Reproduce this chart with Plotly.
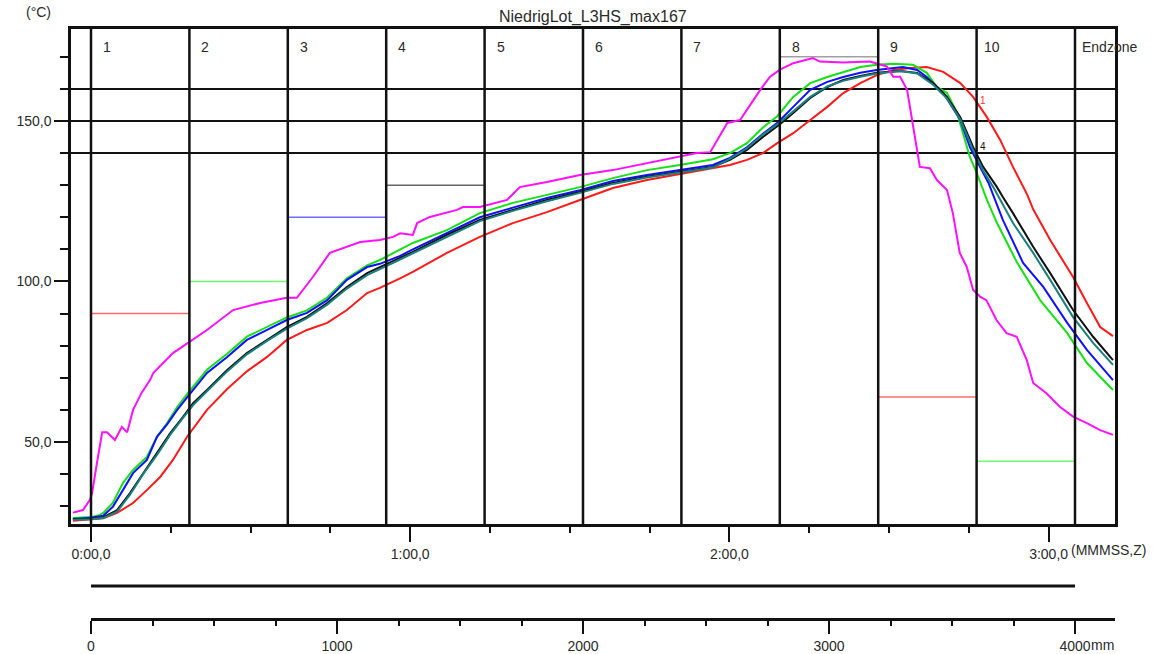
import plotly.graph_objects as go

# ---------------- data ----------------
zone_labels = ["1", "2", "3", "4", "5", "6", "7", "8", "9", "10", "Endzone"]
zone_starts_mm = [0, 400, 800, 1200, 1600, 2000, 2400, 2800, 3200, 3600, 4000]

setpoint_start_mm = [0, 400, 800, 1200, 2800, 3200, 3600]
setpoint_end_mm = [400, 800, 1200, 1600, 3200, 3600, 4000]
setpoint_temp = [90, 100, 120, 130, 170, 64, 44]

limit_temps = [140, 150, 160]

time_ticks = [0, 60, 120, 180]
time_tick_text = ["0:00,0", "1:00,0", "2:00,0", "3:00,0"]
temp_ticks = [50, 100, 150]
temp_tick_text = ["50,0", "100,0", "150,0"]
mm_ticks = [0, 1000, 2000, 3000, 4000]
mm_tick_text = ["0", "1000", "2000", "3000", "4000"]

t_red = [-3.4, 0.0, 2.3, 4.9, 7.9, 10.5, 13.0, 15.4, 18.1, 21.8, 25.6, 29.3, 33.1, 36.8, 40.6, 44.4,
         48.1, 51.9, 54.3, 58.1, 60.5, 66.9, 73.1, 79.3, 85.7, 91.9, 98.1, 104.5, 110.7, 116.9, 120.1,
         123.3, 126.3, 129.0, 132.0, 135.2, 138.4, 141.4, 144.6, 147.7, 150.8, 154.0, 157.1, 160.2,
         163.4, 165.8, 168.4, 170.9, 173.3, 176.0, 177.1, 180.3, 183.5, 184.6, 187.2, 189.7, 192.1]
T_red = [25.5, 25.8, 26.2, 27.9, 31.0, 35.0, 39.1, 44.4, 51.7, 60.0, 66.5, 72.0, 76.5, 81.8, 84.9, 87.1,
         91.1, 96.4, 98.0, 101.0, 103.0, 108.9, 113.9, 118.2, 121.6, 125.4, 129.1, 131.6, 133.5, 135.4, 136.3,
         137.9, 140.0, 143.1, 146.2, 150.3, 154.4, 158.7, 161.8, 164.3, 165.9, 166.5, 166.8, 165.3,
         161.8, 157.5, 151.2, 144.1, 135.7, 127.0, 122.5, 112.9, 104.5, 101.4, 93.3, 85.8, 83.0]

t_green = [-3.4, 0.0, 1.7, 2.3, 4.1, 6.0, 7.9, 10.5, 12.4, 14.3, 16.2, 18.1, 21.8, 25.6, 29.3, 33.1,
           36.8, 40.6, 44.4, 48.1, 51.9, 54.3, 60.5, 66.9, 73.1, 79.3, 85.7, 91.9, 98.1, 104.5, 110.7,
           116.9, 120.1, 123.3, 126.3, 129.0, 132.0, 135.2, 138.4, 141.4, 144.6, 147.7, 150.8, 154.5,
           157.1, 159.0, 160.9, 162.8, 163.9, 165.2, 166.5, 168.4, 170.3, 174.1, 178.4, 183.5, 187.2, 192.1]
T_green = [26.3, 26.6, 27.3, 27.9, 31.0, 37.2, 41.3, 45.3, 51.6, 55.9, 60.9, 65.0, 72.5, 77.5, 82.8, 85.9,
           88.8, 91.0, 95.0, 101.0, 105.0, 106.7, 112.0, 116.0, 121.3, 124.5, 127.0, 129.4, 132.2, 134.7, 136.3,
           138.1, 140.0, 143.1, 148.0, 151.5, 157.5, 161.8, 163.7, 165.3, 166.8, 167.5, 167.8, 167.5,
           165.0, 160.6, 158.7, 152.5, 146.3, 138.8, 133.8, 125.4, 118.2, 105.8, 94.2, 83.9, 74.6, 66.2]

t_blue = [-3.4, 0.0, 2.3, 4.1, 6.0, 7.9, 10.5, 12.4, 14.3, 16.2, 18.1, 21.8, 25.6, 29.3, 33.1, 36.8,
          40.6, 44.4, 48.1, 51.9, 54.3, 58.1, 60.5, 66.9, 73.1, 79.3, 85.7, 91.9, 98.1, 104.5, 110.7,
          116.9, 120.1, 123.3, 126.3, 129.0, 132.0, 135.2, 138.4, 141.4, 144.6, 147.7, 152.6, 155.3,
          157.1, 160.2, 163.4, 165.2, 167.1, 168.7, 171.4, 175.2, 179.0, 183.5, 187.2, 192.1]
T_blue = [26.0, 26.4, 27.0, 29.8, 35.0, 40.3, 44.4, 51.6, 55.5, 60.0, 64.0, 71.5, 76.5, 81.8, 84.9, 88.0,
          90.2, 94.2, 100.5, 104.5, 105.5, 108.0, 110.0, 115.2, 120.0, 123.0, 126.0, 128.4, 131.3, 133.2, 134.8,
          136.3, 138.5, 141.8, 146.0, 149.4, 154.4, 159.7, 162.2, 163.7, 165.0, 165.9, 166.8, 165.9,
          163.7, 158.7, 150.3, 141.9, 135.7, 130.7, 119.2, 105.8, 98.3, 87.1, 78.7, 69.3]

t_black = [-3.4, 0.0, 2.3, 4.9, 7.3, 9.8, 12.4, 14.9, 17.3, 19.2, 21.8, 25.6, 29.3, 33.1, 36.8, 40.6,
           44.4, 48.1, 51.9, 54.3, 57.0, 60.5, 66.9, 73.1, 79.3, 85.7, 91.9, 98.1, 104.5, 110.7, 116.9,
           120.1, 123.3, 126.3, 129.5, 132.0, 135.2, 138.4, 141.4, 144.6, 147.7, 152.1, 155.3, 158.3,
           160.9, 163.4, 165.8, 167.7, 170.3, 171.4, 173.3, 177.1, 180.3, 184.6, 188.4, 192.1]
T_black = [26.0, 26.0, 26.5, 28.8, 34.0, 40.3, 46.6, 52.8, 57.8, 62.1, 66.2, 72.4, 77.7, 81.8, 85.8, 89.0,
           93.3, 98.3, 102.6, 104.5, 106.5, 109.2, 114.5, 119.2, 122.3, 125.4, 127.9, 130.7, 132.6, 134.2, 135.7,
           137.9, 141.0, 145.0, 149.0, 152.5, 157.2, 160.6, 162.8, 164.0, 165.0, 165.6, 165.0, 161.8,
           157.5, 151.2, 141.9, 135.7, 129.4, 126.3, 121.3, 110.8, 102.6, 91.1, 82.7, 75.5]

t_teal = [-3.4, 0.0, 2.3, 4.9, 7.3, 9.8, 12.4, 14.9, 17.3, 19.2, 21.8, 25.6, 29.3, 33.1, 36.8, 40.6,
          44.4, 48.1, 51.9, 54.3, 57.0, 60.5, 66.9, 73.1, 79.3, 85.7, 91.9, 98.1, 104.5, 110.7, 116.9,
          120.1, 123.3, 126.3, 129.5, 132.0, 135.2, 138.4, 141.4, 144.6, 147.7, 152.1, 155.3, 158.3,
          160.9, 163.4, 165.8, 167.7, 169.6, 173.3, 177.1, 180.3, 184.6, 188.4, 192.1]
T_teal = [25.8, 25.9, 26.3, 28.3, 33.5, 40.0, 46.0, 52.3, 57.5, 61.5, 65.8, 72.0, 77.3, 81.5, 85.3, 88.6,
          92.8, 97.8, 102.0, 104.0, 106.0, 108.8, 114.0, 118.8, 122.0, 125.0, 127.6, 130.4, 132.4, 134.0, 135.5,
          138.2, 141.5, 145.8, 149.6, 153.0, 157.5, 160.8, 162.5, 163.8, 164.8, 165.6, 164.8, 161.3,
          157.0, 150.5, 141.0, 134.5, 129.4, 118.2, 108.9, 100.5, 88.9, 80.8, 74.0]

t_magenta = [-3.4, -1.5, -0.2, 0.2, 1.1, 2.1, 3.0, 4.1, 4.5, 5.8, 6.8, 7.9, 9.5, 11.1, 11.7, 15.4, 18.1,
             21.8, 26.7, 31.8, 36.8, 38.7, 41.7, 44.9, 50.6, 54.3, 56.8, 58.1, 60.5, 61.3, 63.7, 68.8, 69.9,
             73.1, 78.2, 80.6, 85.7, 91.9, 98.1, 104.5, 110.7, 113.9, 116.4, 119.6, 122.0, 124.4, 125.8,
             127.6, 129.5, 132.0, 135.7, 137.0, 141.4, 146.4, 149.6, 150.8, 152.1, 153.4, 154.5, 155.8,
             157.7, 159.0, 160.9, 162.0, 163.3, 164.6, 165.8, 167.1, 168.3, 170.2, 172.1, 174.0, 175.9,
             177.1, 179.6, 182.1, 184.6, 187.2, 189.7, 192.1]
T_magenta = [28.0, 28.8, 32.0, 34.0, 43.3, 53.0, 53.0, 51.3, 50.6, 54.7, 53.0, 60.0, 65.3, 69.3, 71.5, 77.7, 80.8,
             84.9, 91.1, 93.3, 94.9, 94.9, 101.4, 108.9, 112.3, 112.9, 113.9, 115.0, 114.5, 118.2, 120.1, 122.3, 123.2,
             123.2, 125.4, 129.4, 131.0, 133.2, 134.7, 136.9, 138.8, 140.0, 140.3, 149.4, 150.3, 156.5, 159.7,
             163.7, 166.0, 168.0, 169.6, 168.5, 168.2, 168.5, 167.0, 163.8, 163.8, 159.7, 149.0, 135.7,
             135.3, 131.6, 128.5, 121.3, 108.9, 104.6, 97.4, 95.3, 94.2, 88.0, 83.9, 82.8, 75.5,
             68.4, 65.2, 61.0, 57.9, 55.9, 53.7, 52.2]

# ---------------- layout geometry ----------------
W, H = 1157, 654
ML, MR, MT, MB = 71, 42, 29, 36
PW = W - ML - MR          # 1044
PH = H - MT - MB          # 589
PLOT_BOTTOM_PX = 524      # pixel row of the time axis


def py(ypix):
    """pixel row -> paper y"""
    return (H - MB - ypix) / PH


FONT = "Liberation Sans, Arial, sans-serif"
TXT = "#2a2a2a"
TICKFONT = dict(family=FONT, size=14, color=TXT)

fig = go.Figure()

series = [
    (t_red, T_red, "#ff1a1a"),
    (t_green, T_green, "#16e016"),
    (t_blue, T_blue, "#1010ff"),
    (t_black, T_black, "#101010"),
    (t_teal, T_teal, "#1a7f7f"),
    (t_magenta, T_magenta, "#ff10ff"),
]
for tx, ty, col in series:
    fig.add_trace(go.Scatter(x=tx, y=ty, mode="lines", line=dict(color=col, width=2),
                             hoverinfo="skip", showlegend=False, xaxis="x", yaxis="y"))

# dummy trace so the mm ruler subplot is drawn
fig.add_trace(go.Scatter(x=[0], y=[0], mode="markers", marker=dict(opacity=0),
                         hoverinfo="skip", showlegend=False, xaxis="x2", yaxis="y2"))

shapes = []
for z in zone_starts_mm:
    if z == 0:
        # conveyor origin coincides with time 0 on the main axis
        shapes.append(dict(type="line", xref="x", yref="y domain", x0=0, x1=0, y0=0, y1=1,
                           line=dict(color="#111", width=2.5), layer="above"))
    else:
        shapes.append(dict(type="line", xref="x2", yref="y domain", x0=z, x1=z, y0=0, y1=1,
                           line=dict(color="#111", width=2.5), layer="above"))
for v in limit_temps:
    shapes.append(dict(type="line", xref="x domain", yref="y", x0=0, x1=1, y0=v, y1=v,
                       line=dict(color="#111", width=2), layer="below"))
sp_colors = ["#ff6b6b", "#6bff6b", "#6b6bff", "#666666", "#a0a0a0", "#ff6b6b", "#6bff6b"]
for a, b, v, c in zip(setpoint_start_mm, setpoint_end_mm, setpoint_temp, sp_colors):
    shapes.append(dict(type="line", xref="x2", yref="y", x0=a, x1=b, y0=v, y1=v,
                       line=dict(color=c, width=1.5), layer="below"))
shapes.append(dict(type="line", xref="x2", yref="paper", x0=0, x1=4000, y0=py(586), y1=py(586),
                   line=dict(color="#111", width=3)))

annotations = []
annotations.append(dict(text="NiedrigLot_L3HS_max167", xref="paper", yref="paper",
                        x=(593 - ML) / PW, y=py(17), xanchor="center", yanchor="middle",
                        showarrow=False, font=dict(family=FONT, size=16, color=TXT)))
annotations.append(dict(text="(°C)", xref="paper", yref="paper", x=(38 - ML) / PW, y=py(12),
                        xanchor="center", yanchor="middle", showarrow=False,
                        font=dict(family=FONT, size=14, color=TXT)))
for lab, z in zip(zone_labels, zone_starts_mm):
    annotations.append(dict(text=lab, xref="x2", yref="paper", x=z, y=py(47),
                            xanchor="left", yanchor="middle", xshift=(10 if len(lab) == 1 else 5),
                            showarrow=False, font=dict(family=FONT, size=14, color=TXT)))
annotations.append(dict(text="(MMMSS,Z)", xref="x", yref="paper", x=time_ticks[-1], y=py(550),
                        xanchor="left", yanchor="middle", xshift=20, showarrow=False,
                        font=TICKFONT))
annotations.append(dict(text="mm", xref="x2", yref="paper", x=mm_ticks[-1], y=py(645),
                        xanchor="left", yanchor="middle", xshift=14, showarrow=False,
                        font=TICKFONT))
annotations.append(dict(text="1", xref="x", yref="y", x=167.7, y=156.5,
                        xanchor="center", yanchor="middle", showarrow=False,
                        font=dict(family=FONT, size=10, color="#ff3030")))
annotations.append(dict(text="4", xref="x", yref="y", x=167.7, y=142.0,
                        xanchor="center", yanchor="middle", showarrow=False,
                        font=dict(family=FONT, size=10, color="#111")))

t_left = -(91 - ML) / 5.32
t_right = (ML + PW - 91) / 5.32
mm_right = (ML + PW - 91) / 0.246

fig.update_layout(
    width=W, height=H, autosize=False,
    margin=dict(l=ML, r=MR, t=MT, b=MB, pad=0),
    paper_bgcolor="white", plot_bgcolor="white",
    showlegend=False,
    font=dict(family=FONT, size=13, color=TXT),
    xaxis=dict(domain=[0, 1], anchor="y", range=[t_left, t_right], automargin=False,
               showline=True, linecolor="#111", linewidth=2.5, mirror=True,
               showgrid=False, zeroline=False,
               ticks="outside", ticklen=15, tickwidth=2, tickcolor="#111",
               tickmode="array", tickvals=time_ticks, ticktext=time_tick_text,
               minor=dict(tickmode="array", tickvals=list(range(0, 195, 15)),
                          ticks="outside", ticklen=6, tickwidth=2, tickcolor="#111", showgrid=False),
               tickfont=TICKFONT),
    yaxis=dict(domain=[(H - MB - PLOT_BOTTOM_PX) / PH, 1], automargin=False,
               anchor="x", range=[24.45, 178.66],
               showline=True, linecolor="#111", linewidth=2.5, mirror=True,
               showgrid=False, zeroline=False,
               ticks="outside", ticklen=14, tickwidth=2, tickcolor="#111",
               tickmode="array", tickvals=temp_ticks, ticktext=temp_tick_text,
               minor=dict(tickmode="array", tickvals=list(range(30, 180, 10)),
                          ticks="outside", ticklen=8, tickwidth=2, tickcolor="#111", showgrid=False),
               tickfont=TICKFONT),
    xaxis2=dict(domain=[(91 - ML) / PW, 1], anchor="y2", range=[0, mm_right], automargin=False,
                showline=True, linecolor="#111", linewidth=3,
                showgrid=False, zeroline=False,
                ticks="outside", ticklen=13, tickwidth=2, tickcolor="#111",
                tickmode="array", tickvals=mm_ticks, ticktext=mm_tick_text,
                minor=dict(tickmode="array", tickvals=list(range(0, 4150, 250)),
                           ticks="outside", ticklen=5, tickwidth=2, tickcolor="#111", showgrid=False),
                tickfont=TICKFONT),
    yaxis2=dict(domain=[0, 0.01], anchor="x2", range=[0, 1], automargin=False,
                showline=False, showgrid=False,
                zeroline=False, showticklabels=False, ticks=""),
    shapes=shapes,
    annotations=annotations,
)

fig.write_html("out.html",
               config={"displayModeBar": False, "responsive": False},
               post_script="document.body.style.margin='0';document.body.style.padding='0';"
                           "document.body.style.overflow='hidden';")
